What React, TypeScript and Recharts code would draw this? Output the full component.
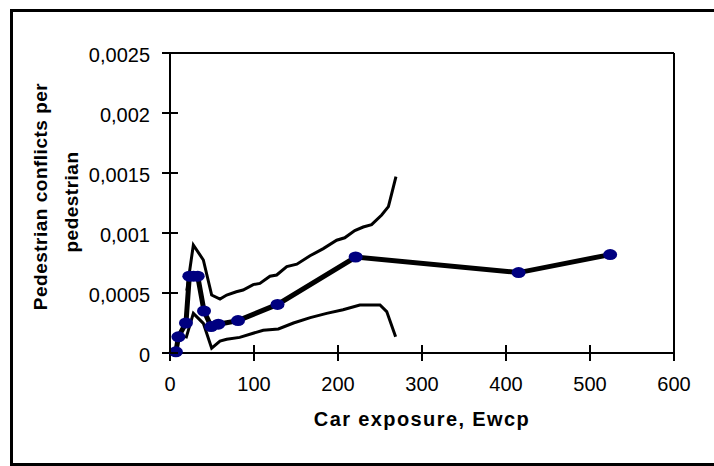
import React from 'react'
import { LineChart, Line, XAxis, YAxis, ReferenceLine, Label } from 'recharts'

// thick series with the blue markers
const meanX = [7, 10, 19, 23, 28, 33, 40.5, 49, 57.5, 81, 128, 221, 415, 524]
const meanY = [0.00001, 0.000135, 0.00025, 0.00064, 0.00064, 0.00064, 0.00035, 0.00022, 0.00024, 0.00027, 0.000405, 0.0008, 0.00067, 0.00082]

// thin upper band
const upperX = [20, 27.8, 39.7, 49.6, 59.5, 67.5, 79, 87, 99, 107, 119, 127, 139, 151, 166.7, 182.5, 198.4, 208, 220, 230, 240, 252, 260, 264, 269]
const upperY = [0.00052, 0.0009, 0.000775, 0.000483, 0.00045, 0.000483, 0.00051, 0.000525, 0.00057, 0.00058, 0.00064, 0.00065, 0.00072, 0.00074, 0.00081, 0.00087, 0.00094, 0.00096, 0.00102, 0.00105, 0.00107, 0.00115, 0.00122, 0.00133, 0.00147]

// thin lower band
const lowerX = [19, 27.8, 39.7, 49.6, 59.5, 67.5, 83, 99, 111, 129, 147, 167, 186.5, 206, 226, 250, 258, 268.6]
const lowerY = [0.000122, 0.00033, 0.000247, 0.00004, 0.0001, 0.000114, 0.00013, 0.000165, 0.00019, 0.0002, 0.00025, 0.000295, 0.00033, 0.00036, 0.0004, 0.0004, 0.000345, 0.000136]

const xTicks = [0, 100, 200, 300, 400, 500, 600]
const yTicks = [0, 0.0005, 0.001, 0.0015, 0.002, 0.0025]
const yTickLabels = ['0', '0,0005', '0,001', '0,0015', '0,002', '0,0025']

const toPoints = (xs: number[], ys: number[]) => xs.map((x, i) => ({ x, y: ys[i] }))

const meanData = toPoints(meanX, meanY)
const upperData = toPoints(upperX, upperY)
const lowerData = toPoints(lowerX, lowerY)

const FONT = '"Liberation Sans", Arial, sans-serif'
const TICK_SIZE = 8

const XTick = (props: any) => {
  const { x, y, payload } = props
  const axisY = y - TICK_SIZE - 15
  return (
    <g>
      <line x1={x} x2={x} y1={axisY - TICK_SIZE} y2={axisY} stroke="#000" strokeWidth={2} />
      <text x={x} y={y + 14.5} textAnchor="middle" fontSize={20} fontFamily={FONT} fill="#000">
        {payload.value}
      </text>
    </g>
  )
}

const YTick = (props: any) => {
  const { x, y, payload, index } = props
  const axisX = x + TICK_SIZE + 12
  return (
    <g>
      <line x1={axisX} x2={axisX + TICK_SIZE} y1={y} y2={y} stroke="#000" strokeWidth={2} />
      <text x={x} y={y + 9} textAnchor="end" fontSize={20} fontFamily={FONT} fill="#000">
        {yTickLabels[index] ?? payload.value}
      </text>
    </g>
  )
}

const Marker = (props: any) => {
  const { cx, cy, index } = props
  return <ellipse key={index} cx={cx} cy={cy} rx={7} ry={5.5} fill="#000080" />
}

const XTitle = (props: any) => {
  const { viewBox } = props
  return (
    <text
      x={viewBox.x + viewBox.width / 2}
      y={viewBox.y + 73}
      textAnchor="middle"
      fontSize={20}
      fontWeight="bold"
      letterSpacing={1.4}
      fontFamily={FONT}
      fill="#000"
    >
      Car exposure, Ewcp
    </text>
  )
}

const YTitle = () => (
  <g fontSize={19} fontWeight="bold" letterSpacing={0.5} fontFamily={FONT} fill="#000">
    <text x={46.5} y={196.5} textAnchor="middle" transform="rotate(-90 46.5 196.5)">
      Pedestrian conflicts per
    </text>
    <text x={78} y={202} textAnchor="middle" transform="rotate(-90 78 202)">
      pedestrian
    </text>
  </g>
)

export default function App() {
  return (
    <div style={{ position: 'absolute', left: 0, top: 0, width: 714, height: 466, overflow: 'hidden', background: '#fff' }}>
      <div
        style={{
          position: 'absolute',
          left: 10,
          top: 9,
          width: 760,
          height: 451,
          border: '3px solid #000',
        }}
      />
      <div style={{ position: 'absolute', left: 0, top: 0 }}>
        <LineChart width={714} height={466} margin={{ top: 53, right: 40, bottom: 73, left: 0 }}>
          <XAxis
            dataKey="x"
            type="number"
            domain={[0, 600]}
            ticks={xTicks}
            allowDuplicatedCategory={false}
            height={40}
            stroke="#000"
            strokeWidth={2}
            tickSize={TICK_SIZE}
            tickMargin={15}
            tick={<XTick />}
            interval={0}
          >
            <Label content={<XTitle />} />
          </XAxis>
          <YAxis
            type="number"
            domain={[0, 0.0025]}
            ticks={yTicks}
            width={170}
            stroke="#000"
            strokeWidth={2}
            tickSize={TICK_SIZE}
            tickMargin={12}
            tick={<YTick />}
            interval={0}
          >
            <Label content={<YTitle />} />
          </YAxis>
          <ReferenceLine y={0.0025} stroke="#000" strokeWidth={2} />
          <ReferenceLine x={600} stroke="#000" strokeWidth={2} />
          <Line
            data={upperData}
            dataKey="y"
            type="linear"
            stroke="#000"
            strokeWidth={3}
            dot={false}
            activeDot={false}
            isAnimationActive={false}
          />
          <Line
            data={lowerData}
            dataKey="y"
            type="linear"
            stroke="#000"
            strokeWidth={3}
            dot={false}
            activeDot={false}
            isAnimationActive={false}
          />
          <Line
            data={meanData}
            dataKey="y"
            type="linear"
            stroke="#000"
            strokeWidth={5}
            dot={<Marker />}
            activeDot={false}
            isAnimationActive={false}
          />
        </LineChart>
      </div>
    </div>
  )
}
